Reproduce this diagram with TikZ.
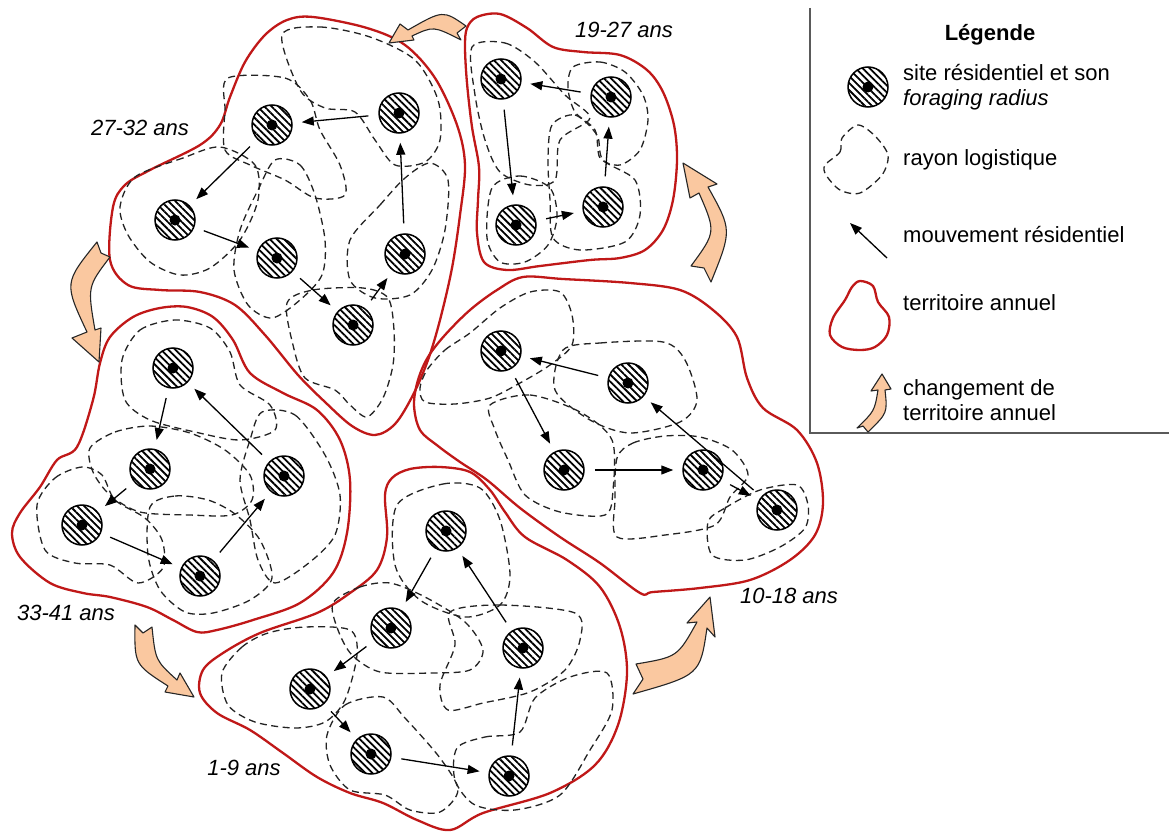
\documentclass[tikz,border=0pt]{standalone}
\usepackage{fontspec}
\setmainfont{Liberation Sans}
\usetikzlibrary{arrows.meta,patterns.meta}
\definecolor{terrred}{RGB}{192,24,24}
\definecolor{peach}{RGB}{250,200,160}
\definecolor{dashc}{RGB}{35,35,35}
\definecolor{boxgray}{RGB}{90,90,90}
\begin{document}
\begin{tikzpicture}[x=1pt,y=-1pt,
 font=\fontsize{22}{25}\selectfont,
 site/.style={circle, minimum size=40pt, inner sep=0pt, draw, line width=1.5pt,
   preaction={fill=white},
   pattern={Lines[angle=-45,distance=5pt,line width=1.8pt]}},
 move/.style={-{Triangle[length=12pt,width=9pt]}, line width=1.3pt, shorten >=9pt, shorten <=10pt},
 terr/.style={draw=terrred, line width=2.3pt},
 logi/.style={draw=dashc, line width=1.3pt, dash pattern=on 7pt off 4.5pt},
 change/.style={fill=peach, draw=black!85, line width=1.1pt, line join=round},
 age/.style={font=\fontsize{22}{25}\selectfont\itshape, inner sep=0pt},
 leg/.style={anchor=west, align=left, inner sep=0pt}
]
\fill[white] (0,0) rectangle (1169,832);
\useasboundingbox (0,0) rectangle (1169,832);

% ---------------- territories (annual) ----------------
\draw[terr] plot[smooth cycle, tension=0.55] coordinates {(313,17) (367,28) (405,45) (435,78) (457,125) (465,165) (460,215) (452,268) (440,320) (428,360) (413,395) (395,424) (375,435) (352,426) (325,402) (298,375) (265,335) (235,305) (200,292) (160,290) (128,285) (110,260) (113,207) (125,185) (150,170) (200,145) (220,125) (230,97) (245,62) (265,35) (287,20)};
\draw[terr] plot[smooth cycle, tension=0.55] coordinates {(477,17) (500,14) (527,28) (553,47) (583,52) (620,55) (647,70) (663,92) (674,125) (677,160) (673,200) (663,230) (645,250) (620,258) (590,260) (540,266) (507,270) (484,262) (477,233) (478,200) (479,167) (472,127) (467,83) (465,47) (467,28)};
\draw[terr] plot[smooth cycle, tension=0.55] coordinates {(100,363) (110,337) (133,317) (160,308) (187,307) (213,317) (233,340) (250,373) (283,393) (317,410) (340,440) (350,480) (347,533) (333,573) (300,603) (253,620) (217,630) (197,632) (173,620) (147,607) (110,597) (83,593) (50,583) (20,557) (12,533) (20,513) (40,487) (57,460) (77,447) (93,400)};
\draw[terr] plot[smooth cycle, tension=0.55] coordinates {(523,277) (563,279) (630,283) (680,290) (713,310) (737,337) (747,378) (763,408) (797,430) (817,463) (823,503) (815,535) (790,560) (750,580) (700,588) (653,592) (640,593) (600,563) (560,537) (520,508) (487,480) (460,462) (438,446) (420,430) (414,405) (418,380) (428,357) (445,335) (470,310) (497,290)};
\draw[terr] plot[smooth cycle, tension=0.55] coordinates {(385,495) (392,478) (410,469) (440,467) (470,472) (490,490) (505,512) (525,537) (567,560) (600,587) (620,627) (627,673) (618,725) (595,765) (550,793) (483,813) (450,830) (417,820) (383,803) (350,793) (317,777) (283,753) (250,730) (217,713) (200,693) (203,670) (223,653) (260,633) (317,613) (350,593) (377,570) (387,537)};

% ---------------- logistic radii ----------------
% A
\draw[logi] plot[smooth cycle] coordinates {(282,35) (320,27) (370,37) (415,60) (438,100) (440,140) (425,162) (395,165) (375,140) (355,112) (325,108) (300,90)};
\draw[logi] plot[smooth cycle] coordinates {(228,78) (285,78) (310,100) (320,130) (340,165) (345,195) (315,198) (285,180) (250,165) (225,150) (225,110)};
\draw[logi] plot[smooth cycle] coordinates {(220,147) (183,158) (135,177) (120,207) (128,235) (150,262) (180,275) (210,268) (240,240) (258,200) (255,165)};
\draw[logi] plot[smooth cycle] coordinates {(275,160) (300,165) (315,195) (325,240) (322,275) (300,300) (272,318) (248,305) (234,270) (240,230) (258,190)};
\draw[logi] plot[smooth cycle] coordinates {(287,303) (313,290) (363,288) (388,298) (394,330) (393,365) (383,398) (367,417) (350,405) (335,390) (305,378) (293,345)};
\draw[logi] plot[smooth cycle] coordinates {(350,240) (380,205) (405,178) (430,163) (448,180) (445,230) (432,270) (410,295) (375,298) (350,280)};
% B
\draw[logi] plot[smooth cycle] coordinates {(472,47) (505,43) (535,62) (565,95) (590,118) (560,140) (555,180) (530,185) (500,172) (485,140) (475,95)};
\draw[logi] plot[smooth cycle] coordinates {(573,67) (600,62) (625,72) (643,95) (648,120) (640,150) (620,165) (600,158) (595,130) (575,112) (568,88)};
\draw[logi] plot[smooth cycle] coordinates {(492,188) (520,176) (550,188) (557,217) (548,245) (525,262) (500,262) (487,238)};
\draw[logi] plot[smooth cycle] coordinates {(552,125) (575,115) (597,135) (603,160) (635,180) (640,215) (625,242) (580,250) (553,238) (550,200) (548,160)};
% C
\draw[logi] plot[smooth cycle] coordinates {(122,360) (140,330) (175,320) (210,328) (230,352) (240,385) (270,405) (275,430) (240,440) (195,432) (150,420) (125,400)};
\draw[logi] plot[smooth cycle] coordinates {(90,448) (115,432) (150,426) (190,433) (225,450) (250,475) (252,500) (232,515) (190,515) (140,512) (110,495) (93,472)};
\draw[logi] plot[smooth cycle] coordinates {(262,412) (295,415) (325,455) (340,495) (335,535) (310,562) (275,583) (258,560) (250,520) (240,480) (250,440)};
\draw[logi] plot[smooth cycle] coordinates {(37,505) (55,478) (82,467) (102,475) (115,500) (145,518) (162,540) (163,568) (138,583) (110,565) (75,563) (45,550)};
\draw[logi] plot[smooth cycle] coordinates {(150,507) (175,496) (208,500) (235,514) (260,540) (272,578) (250,600) (213,613) (185,612) (160,590) (148,555)};
% D
\draw[logi] plot[smooth cycle] coordinates {(427,370) (445,350) (470,333) (500,308) (530,292) (560,292) (572,315) (572,345) (550,365) (520,383) (490,398) (455,404) (425,402) (420,388)};
\draw[logi] plot[smooth cycle] coordinates {(563,350) (600,343) (663,342) (685,360) (697,400) (680,422) (630,433) (590,420) (555,390)};
\draw[logi] plot[smooth cycle] coordinates {(490,405) (530,395) (580,412) (612,440) (613,490) (605,515) (560,512) (525,495) (508,460) (495,430)};
\draw[logi] plot[smooth cycle] coordinates {(617,458) (633,443) (665,436) (700,437) (732,450) (748,475) (730,497) (715,525) (665,535) (617,537) (615,500)};
\draw[logi] plot[smooth cycle] coordinates {(708,522) (725,508) (760,490) (797,485) (808,505) (805,528) (780,547) (745,560) (712,555)};
% E
\draw[logi] plot[smooth cycle] coordinates {(397,505) (443,484) (480,488) (500,520) (510,575) (500,605) (465,617) (420,600) (395,565)};
\draw[logi] plot[smooth cycle] coordinates {(333,603) (360,587) (390,583) (425,597) (465,622) (483,650) (470,670) (430,673) (380,672) (352,655) (338,630)};
\draw[logi] plot[smooth cycle] coordinates {(450,612) (500,605) (575,613) (580,640) (565,670) (530,692) (483,703) (448,710) (440,685) (455,645)};
\draw[logi] plot[smooth cycle] coordinates {(222,673) (242,647) (268,633) (305,627) (350,630) (357,655) (345,700) (325,722) (295,728) (255,722) (228,705)};
\draw[logi] plot[smooth cycle] coordinates {(327,735) (345,705) (383,697) (405,718) (440,758) (458,790) (440,812) (410,810) (385,795) (350,790) (330,765)};
\draw[logi] plot[smooth cycle] coordinates {(457,748) (485,737) (520,732) (535,698) (570,677) (607,673) (612,710) (590,750) (560,795) (515,810) (475,805) (455,780)};

% ---------------- residential sites ----------------
\node[site] (a1) at (272,125) {};
\node[site] (a2) at (399,113) {};
\node[site] (a3) at (175,220) {};
\node[site] (a4) at (277,258) {};
\node[site] (a5) at (405,254) {};
\node[site] (a6) at (353,325) {};
\node[site] (b1) at (501,79) {};
\node[site] (b2) at (611,97) {};
\node[site] (b3) at (516,225) {};
\node[site] (b4) at (603,207) {};
\node[site] (c1) at (173,368) {};
\node[site] (c2) at (150,469) {};
\node[site] (c3) at (284,476) {};
\node[site] (c4) at (82,525) {};
\node[site] (c5) at (200,576) {};
\node[site] (d1) at (501,351) {};
\node[site] (d2) at (628,383) {};
\node[site] (d3) at (564,470) {};
\node[site] (d4) at (703,470) {};
\node[site] (d5) at (777,510) {};
\node[site] (e1) at (446,531) {};
\node[site] (e2) at (391,628) {};
\node[site] (e3) at (523,648) {};
\node[site] (e4) at (310,689) {};
\node[site] (e5) at (371,754) {};
\node[site] (e6) at (509,776) {};
\node[site] (ls) at (868,87) {};
\foreach \n in {a1,a2,a3,a4,a5,a6,b1,b2,b3,b4,c1,c2,c3,c4,c5,d1,d2,d3,d4,d5,e1,e2,e3,e4,e5,e6,ls}
  \fill[black] (\n.center) circle (5.5pt);

% ---------------- residential movements ----------------
\draw[move] (a2) -- (a1);
\draw[move] (a1) -- (a3);
\draw[move] (a3) -- (a4);
\draw[move] (a4) -- (a6);
\draw[move] (a6) -- (a5);
\draw[move] (a5) -- (a2);
\draw[move] (b2) -- (b1);
\draw[move] (b1) -- (b3);
\draw[move] (b3) -- (b4);
\draw[move] (b4) -- (b2);
\draw[move] (c1) -- (c2);
\draw[move] (c2) -- (c4);
\draw[move] (c4) -- (c5);
\draw[move] (c5) -- (c3);
\draw[move] (c3) -- (c1);
\draw[move] (d2) -- (d1);
\draw[move] (d1) -- (d3);
\draw[move] (d3) -- (d4);
\draw[move] (d4) -- (d5);
\draw[move] (d5) -- (d2);
\draw[move] (e1) -- (e2);
\draw[move] (e2) -- (e4);
\draw[move] (e4) -- (e5);
\draw[move] (e5) -- (e6);
\draw[move] (e6) -- (e3);
\draw[move] (e3) -- (e1);

% ---------------- changes of annual territory ----------------
\draw[change] (466,26) .. controls (443,10) .. (408,30) -- (400,24) -- (389,43) -- (414,40) -- (412,36) .. controls (433.5,26) .. (461,40) -- (457,33) -- cycle;
\draw[change] (691,266) .. controls (716,232) .. (699,193) -- (690,198) -- (683,163) -- (717,184) -- (708,187) .. controls (732,230) .. (711,282) -- (704,268) -- cycle;
\draw[change] (97,242) .. controls (64,283) .. (87,332) -- (72,338) -- (99,362) -- (101,328) -- (95,330) .. controls (87.5,286.5) .. (110,257) -- (101,253) -- cycle;
\draw[change] (135,625) .. controls (134.5,664.5) .. (168,686) -- (165,692) -- (194,697) -- (180,673) -- (177,680) .. controls (155.5,660.5) .. (152,627) -- (143,633) -- cycle;
\draw[change] (636,664) .. controls (677.5,657) .. (697,622) -- (687,623) -- (710,597) -- (715,637) -- (707,628) .. controls (700,675) .. (633,694) -- (643,679) -- cycle;

% ---------------- age labels ----------------
\node[age] (t1) at (140,128) {27-32 ans};
\node[age] (t2) at (624,30) {19-27 ans};
\node[age] (t3) at (66,613) {33-41 ans};
\node[age] (t4) at (789,596) {10-18 ans};
\node[age] (t5) at (244,768) {1-9 ans};

% ---------------- legend ----------------
\draw[boxgray, line width=1.5pt] (810,8) -- (810,433) -- (1169,433);
\node[inner sep=0pt, font=\fontsize{22}{25}\selectfont\bfseries] (lt) at (990,35) {Légende};
\node[leg] (l1) at (903,87) {site résidentiel et son\\\textit{foraging radius}};
\draw[logi] plot[smooth cycle] coordinates {(825,165) (840,152) (842,138) (858,125) (875,136) (888,155) (882,175) (860,193) (840,190) (826,175)};
\node[leg] (l2) at (903,160) {rayon logistique};
\coordinate (lm1) at (887,258);
\coordinate (lm2) at (850,223);
\draw[-{Triangle[length=12pt,width=9pt]}, line width=1.3pt] (lm1) -- (lm2);
\node[leg] (l3) at (903,235) {mouvement résidentiel};
\draw[terr] plot[smooth cycle, tension=0.55] coordinates {(860,281) (873,286) (878,302) (889,317) (887,335) (875,347) (860,350) (842,347) (830,335) (833,318) (845,300) (852,287)};
\node[leg] (l4) at (903,303) {territoire annuel};
\draw[change] (857,428) .. controls (874.5,411) .. (878,390) -- (871,391) -- (882,374) -- (891,389) -- (885,390) .. controls (887.5,413) .. (868,432) -- (863,426) -- cycle;
\node[leg] (l5) at (903,400) {changement de\\territoire annuel};
\end{tikzpicture}
\end{document}
